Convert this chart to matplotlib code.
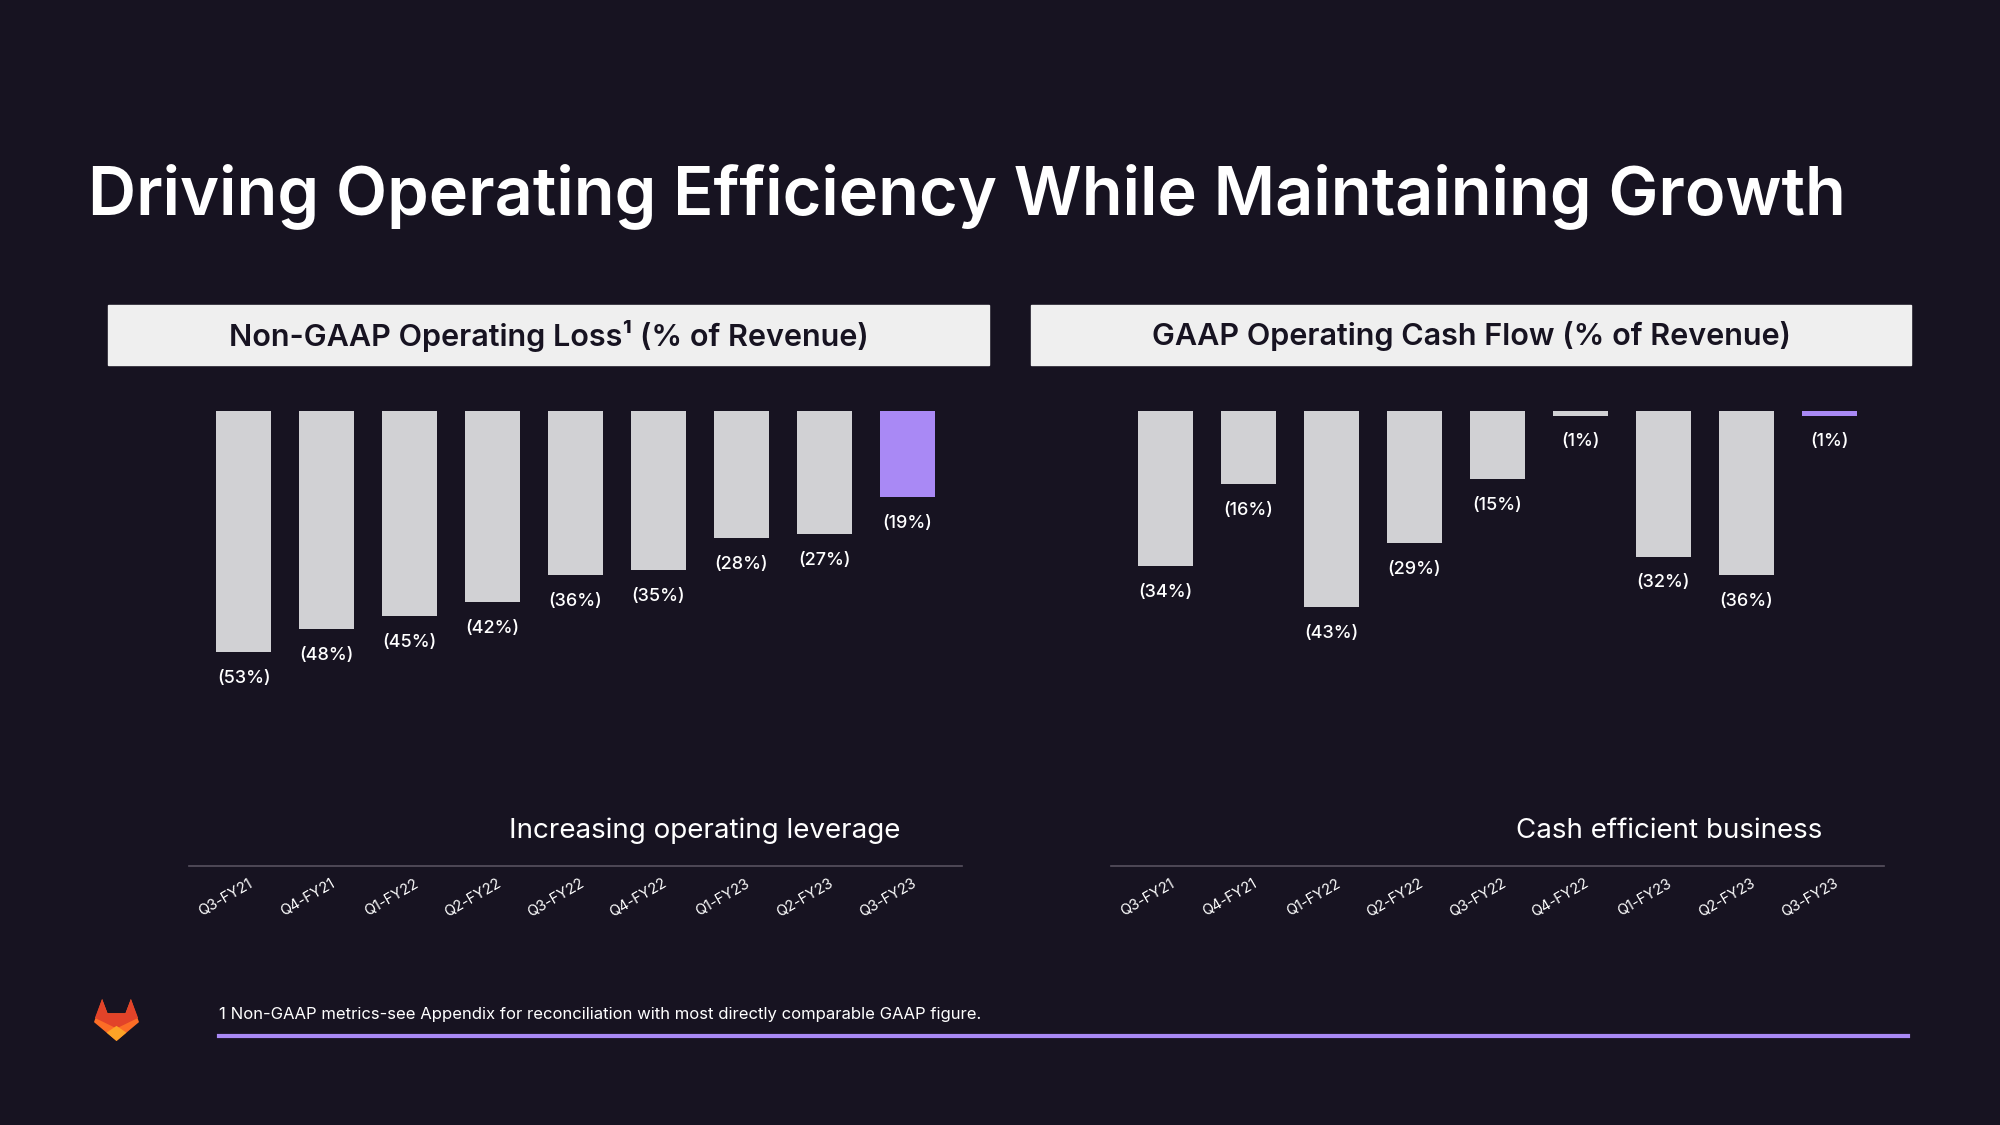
import matplotlib.pyplot as plt
from matplotlib.patches import Rectangle, Polygon
from matplotlib.lines import Line2D
from matplotlib.transforms import ScaledTranslation

plt.rcParams['font.family'] = ['Inter', 'DejaVu Sans']

quarters = ['Q3-FY21', 'Q4-FY21', 'Q1-FY22', 'Q2-FY22', 'Q3-FY22',
            'Q4-FY22', 'Q1-FY23', 'Q2-FY23', 'Q3-FY23']
op_loss = [-53, -48, -45, -42, -36, -35, -28, -27, -19]
cash_flow = [-34, -16, -43, -29, -15, -1, -32, -36, -1]

BG = '#171321'
GREY = '#d1d1d4'
PURPLE = '#a989f5'
BOX = '#efefef'
W, H = 2000, 1125


def fx(px):
    return px / W


def fy(py):
    return 1 - py / H


fig = plt.figure(figsize=(20, 11.25), dpi=100, facecolor=BG)

fig.text(fx(88), fy(196), 'Driving Operating Efficiency While Maintaining Growth',
         color='white', fontsize=48, fontweight='semibold', va='center', ha='left')


def draw_panel(left_px, box_left, box_right, header, values, note):
    # header box
    fig.patches.append(Rectangle((fx(box_left), fy(365)), fx(box_right - box_left), 60 / H,
                                 transform=fig.transFigure, color=BOX, zorder=0))
    fig.text(fx((box_left + box_right) / 2), fy(336), header, color=BG,
             fontsize=22, fontweight='semibold', ha='center', va='center')

    ax = fig.add_axes([fx(left_px), fy(866), fx(773), 455 / H])
    ax.set_facecolor(BG)
    x = list(range(len(values)))
    colors = [GREY] * (len(values) - 1) + [PURPLE]
    ax.bar(x, values, width=0.66, color=colors)
    for xi, v in zip(x, values):
        ax.annotate(f'({abs(v)}%)', (xi, v), xytext=(0, -19), textcoords='offset points',
                    ha='center', va='center', color='white', fontsize=13,
                    fontweight='medium')
    ax.set_xlim(-0.66, 8.66)
    ax.set_ylim(-100, 0)
    ax.set_yticks([])
    for s in ['top', 'left', 'right']:
        ax.spines[s].set_visible(False)
    ax.spines['bottom'].set_color('#57515f')
    ax.spines['bottom'].set_linewidth(1.2)
    ax.set_xticks(x)
    ax.set_xticklabels(quarters, rotation=30, ha='right', rotation_mode='anchor',
                       color='white', fontsize=10.5)
    ax.tick_params(axis='x', length=0, pad=7.5)
    off = ScaledTranslation(4 / 100, 0, fig.dpi_scale_trans)
    for lbl in ax.get_xticklabels():
        lbl.set_transform(lbl.get_transform() + off)
    ax.text(1 - 62 / 773, 35 / 455, note, transform=ax.transAxes, ha='right', va='center',
            color='white', fontsize=20)
    return ax


draw_panel(189, 108, 989, 'Non-GAAP Operating Loss¹ (% of Revenue)', op_loss,
           'Increasing operating leverage')
draw_panel(1111, 1031, 1911, 'GAAP Operating Cash Flow (% of Revenue)', cash_flow,
           'Cash efficient business')

# footnote and rule
fig.text(fx(219), fy(1014), '1 Non-GAAP metrics-see Appendix for reconciliation with most '
         'directly comparable GAAP figure.', color='white', fontsize=12, va='center')
fig.lines.append(Line2D([fx(219), fx(1908)], [fy(1036), fy(1036)], transform=fig.transFigure,
                        color=PURPLE, linewidth=3))


# logo
def logo(x0, y0, w, h):
    def pts(p):
        return [(fx(x0 + u * w), fy(y0 + (1 - v) * h)) for u, v in p]
    outer = [(0, 0.45), (0.18, 1.0), (0.3, 0.66), (0.7, 0.66), (0.82, 1.0), (1, 0.45), (0.5, 0)]
    red = [(0.02, 0.55), (0.18, 1.0), (0.3, 0.66), (0.7, 0.66), (0.82, 1.0), (0.98, 0.55),
           (0.5, 0.3)]
    yellow = [(0.28, 0.2), (0.5, 0.36), (0.72, 0.2), (0.5, 0)]
    for p, c in [(outer, '#fc6d26'), (red, '#e24329'), (yellow, '#fca326')]:
        fig.patches.append(Polygon(pts(p), closed=True, transform=fig.transFigure,
                                   color=c, lw=0))


logo(94, 999, 45, 42)

fig.savefig('out.png', dpi=100, facecolor=BG)
